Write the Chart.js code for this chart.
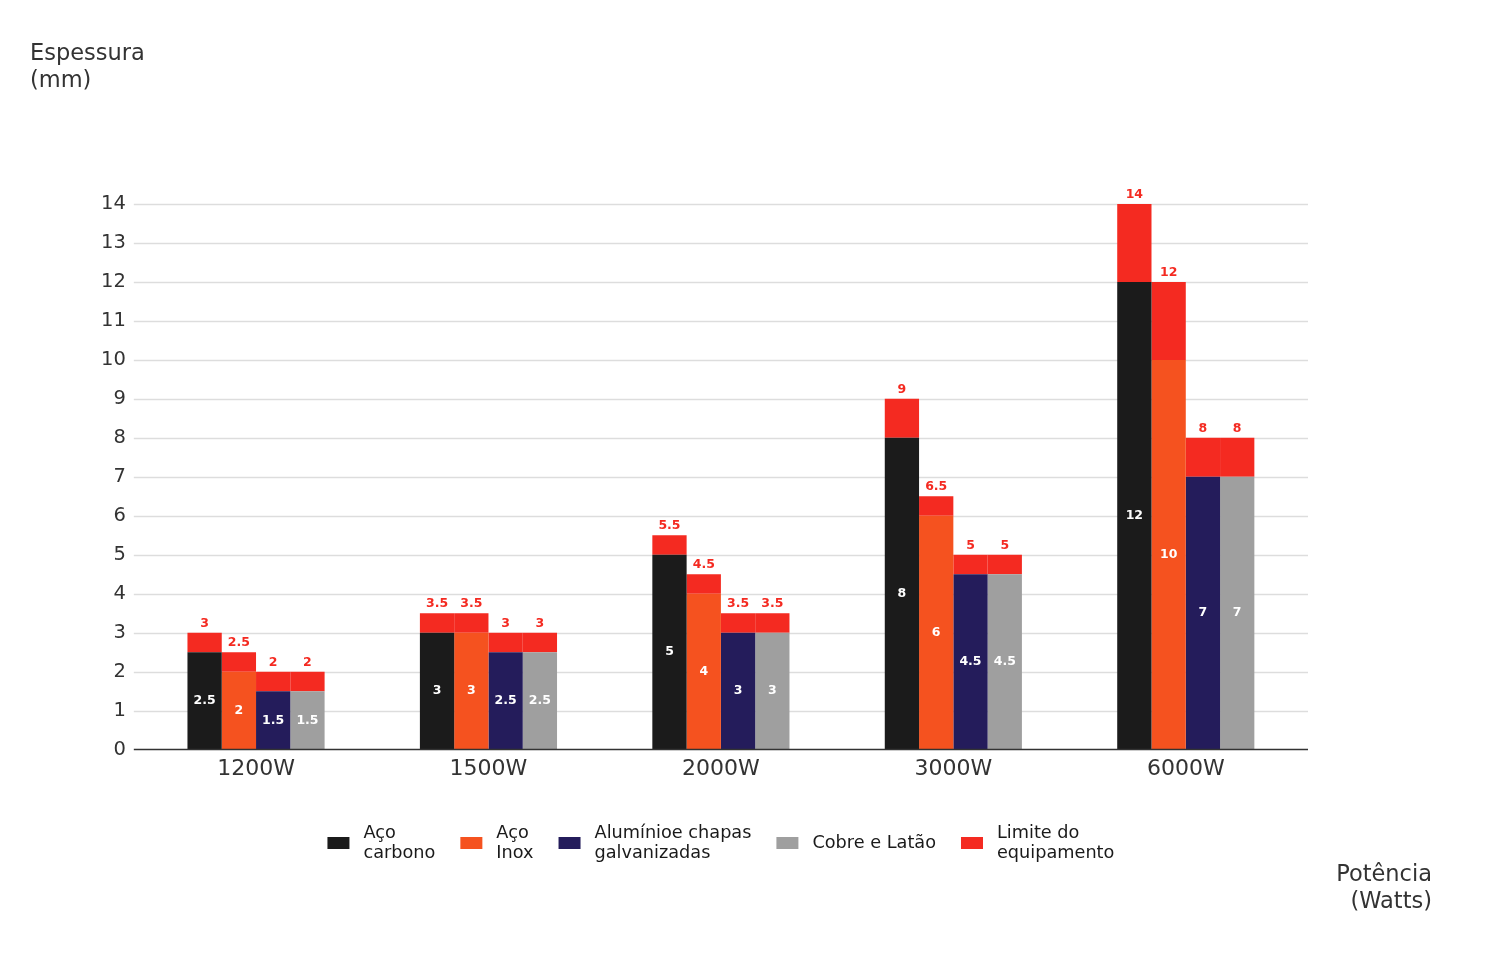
<!DOCTYPE html>
<html>
<head>
<meta charset="utf-8">
<script src="https://cdn.jsdelivr.net/npm/chart.js@4.4.1/dist/chart.umd.min.js"></script>
<style>
  html, body { margin: 0; padding: 0; background: #ffffff; }
  #wrap { width: 1485px; height: 960px; }
</style>
</head>
<body>
<div id="wrap"><canvas id="myChart" width="1485" height="960"></canvas></div>
<script>
// Fonts and colours
Chart.defaults.font.family = "'DejaVu Sans', sans-serif";
Chart.defaults.color = '#333333';

const COLORS = {
    CARBONO: '#1b1b1b',
    INOX: '#f5521f',
    ALUMINIO: '#241c5b',
    COBRE: '#9f9f9f',
    LIMITE: '#f42a21',
    GRID: '#dddddd',
    AXIS: '#333333'
};

// Data
const potencias = ['1200W', '1500W', '2000W', '3000W', '6000W'];
const acoCarbono = [2.5, 3, 5, 8, 12];
const acoInox = [2, 3, 4, 6, 10];
const aluminio = [1.5, 2.5, 3, 4.5, 7];
const cobre = [1.5, 2.5, 3, 4.5, 7];
// equipment limit (top of the red segment) for each material
const limiteCarbono = [3, 3.5, 5.5, 9, 14];
const limiteInox = [2.5, 3.5, 4.5, 6.5, 12];
const limiteAluminio = [2, 3, 3.5, 5, 8];
const limiteCobre = [2, 3, 3.5, 5, 8];
const yTicks = [0, 1, 2, 3, 4, 5, 6, 7, 8, 9, 10, 11, 12, 13, 14];

const materiais = [
    { label: ['Aço', 'carbono'], data: acoCarbono, limite: limiteCarbono, color: COLORS.CARBONO },
    { label: ['Aço', 'Inox'], data: acoInox, limite: limiteInox, color: COLORS.INOX },
    { label: ['Alumínioe chapas', 'galvanizadas'], data: aluminio, limite: limiteAluminio, color: COLORS.ALUMINIO },
    { label: ['Cobre e Latão'], data: cobre, limite: limiteCobre, color: COLORS.COBRE }
];

const datasets = [];
materiais.forEach((m, i) => {
    datasets.push({
        label: m.label,
        data: m.data,
        backgroundColor: m.color,
        stack: 's' + i,
        kind: 'material'
    });
});
materiais.forEach((m, i) => {
    datasets.push({
        label: ['Limite do', 'equipamento'],
        data: m.limite.map((v, j) => v - m.data[j]),
        totals: m.limite,
        backgroundColor: COLORS.LIMITE,
        stack: 's' + i,
        kind: 'limite',
        legendHidden: i > 0
    });
});

// grid lines run a little past the bars on both sides, like the original
const GRID_OVERHANG = 6;

const decorPlugin = {
    id: 'decor',
    beforeDatasetsDraw(chart) {
        const { ctx, chartArea, scales: { y } } = chart;
        ctx.save();
        ctx.strokeStyle = COLORS.GRID;
        ctx.lineWidth = 1.5;
        yTicks.forEach(v => {
            if (v === 0) return;
            const py = Math.round(y.getPixelForValue(v)) + 0.5;
            ctx.beginPath();
            ctx.moveTo(chartArea.left - GRID_OVERHANG, py);
            ctx.lineTo(chartArea.right + GRID_OVERHANG, py);
            ctx.stroke();
        });
        ctx.restore();
    },
    afterDatasetsDraw(chart) {
        const { ctx, chartArea, scales: { y } } = chart;
        ctx.save();
        // baseline
        const py0 = y.getPixelForValue(0);
        ctx.strokeStyle = COLORS.AXIS;
        ctx.lineWidth = 1.5;
        ctx.beginPath();
        ctx.moveTo(chartArea.left - GRID_OVERHANG, py0);
        ctx.lineTo(chartArea.right + GRID_OVERHANG, py0);
        ctx.stroke();

        // value labels
        ctx.font = "bold 12.5px 'DejaVu Sans', sans-serif";
        ctx.textAlign = 'center';
        chart.data.datasets.forEach((ds, di) => {
            const meta = chart.getDatasetMeta(di);
            if (meta.hidden) return;
            meta.data.forEach((bar, j) => {
                if (ds.kind === 'material') {
                    ctx.fillStyle = '#ffffff';
                    ctx.textBaseline = 'middle';
                    ctx.fillText(String(ds.data[j]), bar.x, (bar.y + bar.base) / 2);
                } else {
                    ctx.fillStyle = COLORS.LIMITE;
                    ctx.textBaseline = 'bottom';
                    ctx.fillText(String(ds.totals[j]), bar.x, bar.y - 3);
                }
            });
        });
        ctx.restore();
    },
    afterDraw(chart) {
        const { ctx, chartArea } = chart;
        ctx.save();
        // axis titles
        ctx.font = "22.5px 'DejaVu Sans', sans-serif";
        ctx.fillStyle = '#333333';
        ctx.textBaseline = 'middle';
        ctx.textAlign = 'left';
        ctx.fillText('Espessura', 30, 54);
        ctx.fillText('(mm)', 30, 81);
        ctx.textAlign = 'right';
        ctx.fillText('Potência', 1432, 875);
        ctx.fillText('(Watts)', 1432, 902);

        // legend (multi-line labels), centred under the plot
        const items = chart.data.datasets.filter(ds => !ds.legendHidden);
        const boxW = 22, boxH = 12, textGap = 14, itemGap = 25, lineH = 20;
        const legendY = 843;
        ctx.font = "17.7px 'DejaVu Sans', sans-serif";
        const widths = items.map(ds => {
            const lines = [].concat(ds.label);
            return boxW + textGap + Math.max(...lines.map(t => ctx.measureText(t).width));
        });
        const total = widths.reduce((a, b) => a + b, 0) + itemGap * (items.length - 1);
        let x = (chartArea.left + chartArea.right) / 2 - total / 2;
        ctx.textAlign = 'left';
        items.forEach((ds, i) => {
            ctx.fillStyle = ds.backgroundColor;
            ctx.fillRect(x, legendY - boxH / 2, boxW, boxH);
            const lines = [].concat(ds.label);
            ctx.fillStyle = '#1a1a1a';
            lines.forEach((t, k) => {
                const ty = legendY + (k - (lines.length - 1) / 2) * lineH;
                ctx.fillText(t, x + boxW + textGap, ty);
            });
            x += widths[i] + itemGap;
        });
        ctx.restore();
    }
};

new Chart(document.getElementById('myChart'), {
    type: 'bar',
    data: { labels: potencias, datasets: datasets },
    plugins: [decorPlugin],
    options: {
        responsive: false,
        animation: false,
        layout: { padding: { left: 87, right: 183, top: 204, bottom: 172 } },
        datasets: {
            bar: { categoryPercentage: 0.59, barPercentage: 1, borderWidth: 0 }
        },
        scales: {
            x: {
                stacked: true,
                grid: { display: false, drawTicks: false },
                border: { display: false },
                ticks: { font: { size: 22 }, color: '#333333', padding: 6 }
            },
            y: {
                stacked: true,
                min: 0,
                max: 14,
                afterBuildTicks: (axis) => { axis.ticks = yTicks.map(v => ({ value: v })); },
                grid: { display: false, drawTicks: false },
                border: { display: false },
                ticks: { font: { size: 19.5 }, color: '#333333', padding: 14 }
            }
        },
        plugins: {
            tooltip: { enabled: false },
            legend: { display: false }
        }
    }
});
</script>
</body>
</html>
